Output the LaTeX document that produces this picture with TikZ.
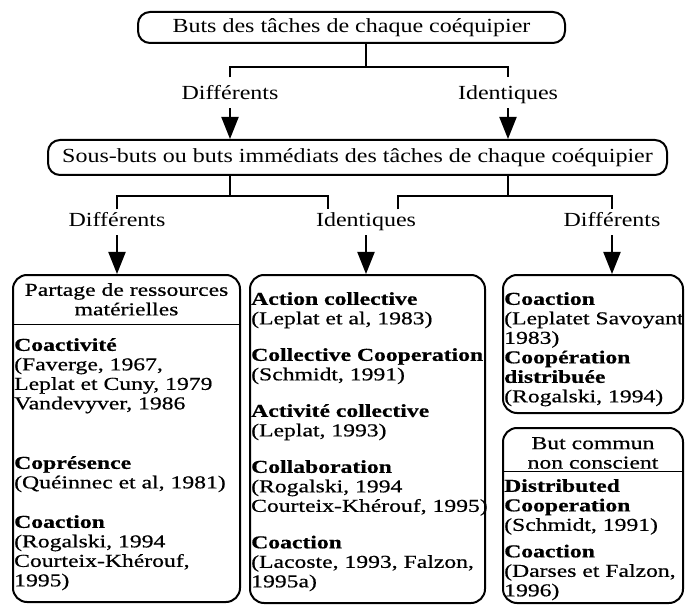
\documentclass[tikz,border=0pt]{standalone}
\usepackage{fontspec}
\usepackage{tikz}
\usetikzlibrary{arrows.meta, positioning}
\newfontfamily\titrefont{Liberation Serif}[FakeStretch=1.2]
\newfontfamily\boitefont{Liberation Serif}[FakeStretch=1.3, FakeBold=0.6]

\tikzset{
  bulle/.style={draw, line width=2pt, rounded corners=12pt, inner sep=0pt,
    font=\titrefont\fontsize{20}{22}\selectfont},
  etiq/.style={inner xsep=0pt, inner ysep=4pt, text height=13.5pt, text depth=4pt,
    anchor=base, font=\titrefont\fontsize{20}{22}\selectfont},
  boite/.style={draw, line width=2pt, rounded corners=14pt, inner sep=0pt},
  corps/.style={inner sep=0pt, align=left, font=\boitefont\fontsize{18.2}{19.5}\selectfont},
  trait/.style={line width=2pt},
  fleche/.style={line width=2pt, -{Triangle[width=17pt,length=22pt]}},
}

\begin{document}
\begin{tikzpicture}[x=1pt, y=1pt]
        \useasboundingbox (0,0) rectangle (685,606);

        % buts
        \node[bulle, minimum width=427pt, minimum height=31pt] (buts) at (351.5,578.5)
            {Buts des tâches de chaque coéquipier};
        \node[etiq] (diff1)  at (230,506) {Différents};
        \node[etiq] (ident1) at (508,506) {Identiques};
        \node[bulle, minimum width=619pt, minimum height=35pt] (sousbuts) at (357.5,448.5)
            {Sous-buts ou buts immédiats des tâches de chaque coéquipier};

        % sous-buts
        \node[etiq] (diff2)  at (117,379) {Différents};
        \node[etiq] (ident2) at (366,379) {Identiques};
        \node[etiq] (diff3)  at (612,379) {Différents};

        \node[boite, minimum width=227pt, minimum height=327pt] (gauche) at (126.5,167.5) {};
        \node[boite, minimum width=235pt, minimum height=328pt] (milieu) at (367.5,167) {};
        \node[boite, minimum width=180pt, minimum height=138pt] (droite) at (593,262) {};
        \node[boite, minimum width=180pt, minimum height=175pt] (commun) at (593,90.5) {};

        \draw[trait] ([xshift=14pt]buts.south) -- ++(0,-23) coordinate (f1);
        \draw[trait] ([yshift=5pt]diff1.north) |- (f1) -| ([yshift=5pt]ident1.north);
        \draw[fleche] (diff1.south) -- (diff1.south |- sousbuts.north);
        \draw[fleche] (ident1.south) -- (ident1.south |- sousbuts.north);

        \draw[trait] (sousbuts.south -| diff1) -- ++(0,-20) coordinate (f2);
        \draw[trait] (diff2.north) |- (f2) -| ([xshift=-38pt]ident2.north);
        \draw[trait] (sousbuts.south -| ident1) -- ++(0,-20) coordinate (f3);
        \draw[trait] ([xshift=32pt]ident2.north) |- (f3) -| (diff3.north);
        \draw[fleche] (diff2.south) -- (diff2.south |- gauche.north);
        \draw[fleche] (ident2.south) -- (ident2.south |- milieu.north);
        \draw[fleche] (diff3.south) -- (diff3.south |- droite.north);

        % contenu des boites
        \node[corps, align=center, anchor=north] (gauche-titre) at ([yshift=-9pt]gauche.north)
            {Partage de ressources\\matérielles};
        \draw[line width=1pt] ([yshift=-50pt]gauche.north west) -- ([yshift=-50pt]gauche.north east);
        \node[corps, anchor=north west] (gauche-txt) at ([xshift=2pt,yshift=-64pt]gauche.north west)
            {\textbf{Coactivité}\\
             (Faverge, 1967,\\
             Leplat et Cuny, 1979\\
             Vandevyver, 1986\\[40pt]
             \textbf{Coprésence}\\
             (Quéinnec et al, 1981)\\[20pt]
             \textbf{Coaction}\\
             (Rogalski, 1994\\
             Courteix-Khérouf,\\
             1995)};

        \node[corps, anchor=north west] (milieu-txt) at ([xshift=2pt,yshift=-18pt]milieu.north west)
            {\textbf{Action collective}\\
             (Leplat et al, 1983)\\[17pt]
             \textbf{Collective Cooperation}\\
             (Schmidt, 1991)\\[17pt]
             \textbf{Activité collective}\\
             (Leplat, 1993)\\[17pt]
             \textbf{Collaboration}\\
             (Rogalski, 1994\\
             Courteix-Khérouf, 1995)\\[17pt]
             \textbf{Coaction}\\
             (Lacoste, 1993, Falzon,\\
             1995a)};

        \node[corps, anchor=north west] (droite-txt) at ([xshift=2pt,yshift=-18pt]droite.north west)
            {\textbf{Coaction}\\
             (Leplatet Savoyant\\
             1983)\\
             \textbf{Coopération}\\
             \textbf{distribuée}\\
             (Rogalski, 1994)};

        \node[corps, align=center, anchor=north] (commun-titre) at ([yshift=-10pt]commun.north)
            {But commun\\non conscient};
        \draw[line width=1pt] ([yshift=-44pt]commun.north west) -- ([yshift=-44pt]commun.north east);
        \node[corps, anchor=north west] (commun-txt) at ([xshift=2pt,yshift=-52pt]commun.north west)
            {\textbf{Distributed}\\
             \textbf{Cooperation}\\
             (Schmidt, 1991)\\[7pt]
             \textbf{Coaction}\\
             (Darses et Falzon,\\
             1996)};
\end{tikzpicture}
\end{document}
